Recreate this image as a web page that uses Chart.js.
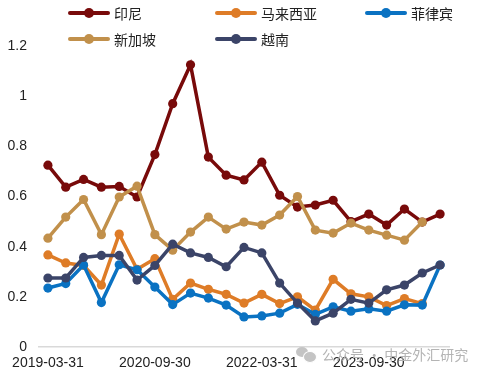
<!DOCTYPE html>
<html>
<head>
<meta charset="utf-8">
<script src="https://cdn.jsdelivr.net/npm/chart.js@4"></script>
<style>
  html, body { margin: 0; padding: 0; background: #fff; }
  #wrap { position: relative; width: 488px; height: 376px; }
  #legend { position: absolute; left: 0; top: 0; width: 488px; height: 50px; }
  .lg { position: absolute; display: flex; align-items: center; font: 14px "Noto Sans CJK SC", sans-serif; color: #222; }
  .lg .sw { position: relative; width: 42px; height: 4px; margin-right: 4px; border-radius: 2px; }
  .lg .sw i { position: absolute; left: 16px; top: -3px; width: 10px; height: 10px; border-radius: 50%; background: inherit; }
  #wm { position: absolute; left: 296px; top: 344px; font: 14px "Noto Sans CJK SC", sans-serif; color: #b4b4b4; display: flex; align-items: center; }
  #wm .ic { position: relative; width: 20px; height: 16px; margin-right: 6px; }
  #wm .ic b { position: absolute; border-radius: 50%; background: #c4c4c4; }
</style>
</head>
<body>
<div id="wrap">
  <canvas id="chart" width="488" height="376"></canvas>
  <div id="legend"></div>
  <div id="wm"><span class="ic"><b style="left:0;top:1px;width:12px;height:10px"></b><b style="left:7px;top:5px;width:12px;height:10px;border:1px solid #fff"></b></span>公众号 · 中金外汇研究</div>
</div>
<script>
(function () {
  'use strict';

  // ── 数据 ──
  const dates = [
    '2019-03-31', '2019-06-30', '2019-09-30', '2019-12-31',
    '2020-03-31', '2020-06-30', '2020-09-30', '2020-12-31',
    '2021-03-31', '2021-06-30', '2021-09-30', '2021-12-31',
    '2022-03-31', '2022-06-30', '2022-09-30', '2022-12-31',
    '2023-03-31', '2023-06-30', '2023-09-30', '2023-12-31',
    '2024-03-31', '2024-06-30', '2024-09-30'
  ];
  const names = ['印尼', '马来西亚', '菲律宾', '新加坡', '越南'];
  const colors = ['#780A0A', '#DE7C27', '#0A72C2', '#C1904B', '#3B4468'];

  const indonesia = [0.725, 0.637, 0.668, 0.637, 0.640, 0.598, 0.767, 0.970, 1.125, 0.757, 0.685, 0.666, 0.737,
    0.605, 0.558, 0.566, 0.585, 0.500, 0.530, 0.486, 0.550, 0.498, 0.530];
  const malaysia = [0.367, 0.335, 0.325, 0.247, 0.450, 0.310, 0.352, 0.190, 0.255, 0.230, 0.210, 0.175, 0.210,
    0.173, 0.200, 0.147, 0.270, 0.212, 0.200, 0.165, 0.193, 0.173, null];
  const philippines = [0.235, 0.253, 0.327, 0.177, 0.328, 0.308, 0.239, 0.169, 0.215, 0.195, 0.167, 0.120, 0.124,
    0.135, 0.170, 0.130, 0.160, 0.143, 0.152, 0.143, 0.168, 0.167, 0.327];
  const singapore = [0.434, 0.518, 0.588, 0.448, 0.598, 0.641, 0.448, 0.386, 0.458, 0.518, 0.470, 0.498, 0.486,
    0.526, 0.600, 0.466, 0.454, 0.494, 0.466, 0.446, 0.426, 0.498, null];
  const vietnam = [0.275, 0.275, 0.357, 0.365, 0.365, 0.267, 0.325, 0.410, 0.375, 0.357, 0.320, 0.397, 0.375,
    0.255, 0.175, 0.104, 0.135, 0.190, 0.175, 0.228, 0.247, 0.295, 0.327];
  const series = [indonesia, malaysia, philippines, singapore, vietnam];
  const yTicks = [0, 0.2, 0.4, 0.6, 0.8, 1, 1.2];

  // ── 图例 ──
  const legendPos = [[68, 13], [215, 13], [365, 13], [68, 39], [215, 39]];
  const legend = document.getElementById('legend');
  names.forEach((n, i) => {
    const el = document.createElement('div');
    el.className = 'lg';
    el.style.left = legendPos[i][0] + 'px';
    el.style.top = (legendPos[i][1] - 10) + 'px';
    el.innerHTML = '<span class="sw" style="background:' + colors[i] + '"><i></i></span>' + n;
    legend.appendChild(el);
  });

  // ── 图表 ──
  const datasets = series.map((d, i) => ({
    label: names[i],
    data: d,
    borderColor: colors[i],
    backgroundColor: colors[i],
    borderWidth: 3.5,
    pointRadius: 4.6,
    pointBorderWidth: 0,
    pointBackgroundColor: colors[i],
    tension: 0,
    order: series.length - i,
  }));

  new Chart(document.getElementById('chart').getContext('2d'), {
    type: 'line',
    data: { labels: dates, datasets: datasets },
    options: {
      responsive: false,
      animation: false,
      layout: { padding: { top: 46, right: 39, bottom: 0, left: 0 } },
      plugins: { legend: { display: false }, tooltip: { enabled: false } },
      scales: {
        x: {
          offset: true,
          grid: { display: false, drawTicks: false },
          border: { display: true, color: '#d9d9d9', width: 1.5 },
          afterFit: (s) => { s.height = 29; },
          ticks: {
            autoSkip: false,
            maxRotation: 0,
            padding: 8,
            color: '#222',
            font: { family: 'Liberation Sans', size: 14 },
            callback: function (v, i) { return i % 6 === 0 ? dates[i] : ''; },
          },
        },
        y: {
          min: 0,
          max: 1.2,
          grid: { display: false, drawTicks: false },
          border: { display: false },
          afterFit: (s) => { s.width = 39; },
          afterBuildTicks: (s) => { s.ticks = yTicks.map(v => ({ value: v })); },
          ticks: {
            padding: 12,
            color: '#222',
            font: { family: 'Liberation Sans', size: 14 },
            callback: (v) => String(Math.round(v * 10) / 10),
          },
        },
      },
    },
  });
})();
</script>
</body>
</html>
